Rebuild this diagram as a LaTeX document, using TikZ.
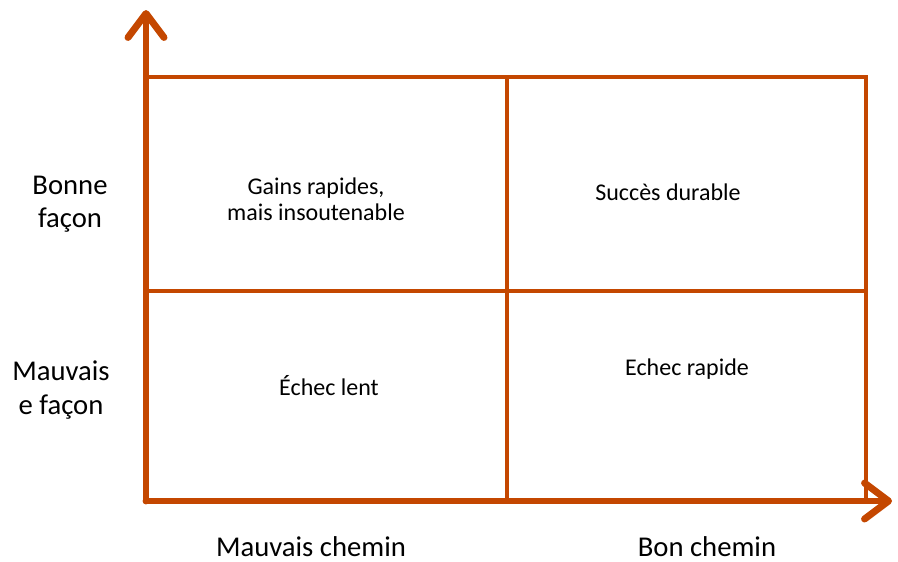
\documentclass[tikz,border=0pt]{standalone}
\usepackage{fontspec}
\setmainfont{Carlito}
\usetikzlibrary{arrows.meta}
\definecolor{axisor}{HTML}{C44700}
\begin{document}
\begin{tikzpicture}[x=0.75pt,y=-0.75pt,
  axisline/.style={draw=axisor,line width=5.2pt,line cap=round,
    -{Straight Barb[length=18pt,width=27pt,line cap=round,line join=round]}},
  gridline/.style={draw=axisor,line width=3pt},
  celltext/.style={font=\fontsize{18pt}{19.5pt}\selectfont,align=center,inner sep=0pt},
  axistext/.style={font=\fontsize{21.5pt}{25pt}\selectfont,align=center,inner sep=0pt}]
\useasboundingbox (0,0) rectangle (898,561);
\coordinate (o) at (146,501);
\coordinate (ytip) at (146,10);
\coordinate (xtip) at (892,501);
\coordinate (tl) at (146,77);
\coordinate (tr) at (866,77);
\coordinate (tm) at (507,77);
\coordinate (bm) at (507,501);
\coordinate (br) at (866,501);
\coordinate (ml) at (146,291);
\coordinate (mr) at (866,291);
\draw[gridline] (tl) -- (tr) -- (br);
\draw[gridline] (tm) -- (bm);
\draw[gridline] (ml) -- (mr);
\draw[axisline] (o) -- (ytip);
\draw[axisline] (o) -- (xtip);
\node[celltext] (c1) at (316,199) {Gains rapides,\\mais insoutenable};
\node[celltext] (c2) at (668,192) {Succès durable};
\node[celltext] (c3) at (329,386) {Échec lent};
\node[celltext] (c4) at (687,369) {Echec rapide};
\node[axistext] (y1) at (70,204) {Bonne\\façon};
\node[axistext] (y2) at (61,390) {Mauvais\\e façon};
\node[axistext] (x1) at (311,547) {Mauvais chemin};
\node[axistext] (x2) at (707,547) {Bon chemin};
\end{tikzpicture}
\end{document}
